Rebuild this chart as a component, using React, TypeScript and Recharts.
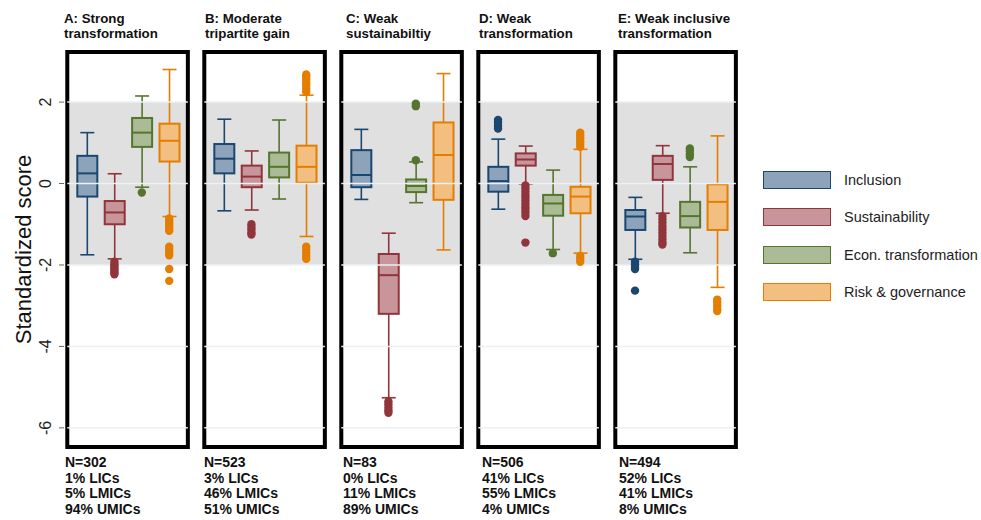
import React from "react";
import { ComposedChart, Bar, Scatter, XAxis, YAxis, ReferenceArea, ReferenceLine, Label } from "recharts";

const panelTitles = [
  ["A: Strong", "transformation"],
  ["B: Moderate", "tripartite gain"],
  ["C: Weak", "sustainabiltiy"],
  ["D: Weak", "transformation"],
  ["E: Weak inclusive", "transformation"],
];
const panelN = [302, 523, 83, 506, 494];
const licShare = [1, 3, 0, 41, 52];
const lmicShare = [5, 46, 11, 55, 41];
const umicShare = [94, 51, 89, 4, 8];

const seriesNames = ["Inclusion", "Sustainability", "Econ. transformation", "Risk & governance"];

// [lower whisker, q1, median, q3, upper whisker], one row per panel A..E
const inclusionBoxes = [
  [-1.75, -0.32, 0.25, 0.68, 1.25],
  [-0.67, 0.25, 0.61, 0.97, 1.58],
  [-0.39, -0.09, 0.21, 0.82, 1.33],
  [-0.63, -0.2, 0.06, 0.41, 1.09],
  [-1.86, -1.14, -0.81, -0.65, -0.34],
];
const sustainabilityBoxes = [
  [-1.85, -1.0, -0.71, -0.43, 0.24],
  [-0.65, -0.09, 0.17, 0.44, 0.8],
  [-5.26, -3.2, -2.25, -1.73, -1.22],
  [-0.01, 0.44, 0.59, 0.74, 0.92],
  [-0.73, 0.09, 0.48, 0.68, 0.93],
];
const econBoxes = [
  [-0.09, 0.9, 1.25, 1.61, 2.15],
  [-0.38, 0.15, 0.41, 0.76, 1.56],
  [-0.47, -0.21, -0.06, 0.1, 0.53],
  [-1.62, -0.79, -0.49, -0.28, 0.33],
  [-1.7, -1.08, -0.8, -0.45, 0.41],
];
const riskBoxes = [
  [-0.81, 0.54, 1.05, 1.47, 2.8],
  [-1.3, 0.02, 0.41, 0.93, 2.17],
  [-1.63, -0.4, 0.7, 1.5, 2.7],
  [-1.71, -0.73, -0.32, -0.08, 0.84],
  [-2.55, -1.14, -0.45, -0.02, 1.17],
];

// outside values, one list per panel A..E
const inclusionOutliers = [[], [], [], [1.35, 1.42, 1.5, 1.56], [-1.92, -1.98, -2.05, -2.1, -2.63]];
const sustainabilityOutliers = [
  [-1.92, -1.98, -2.03, -2.08, -2.13, -2.18, -2.23],
  [-1.0, -1.07, -1.13, -1.2, -1.25],
  [-5.35, -5.42, -5.5, -5.57, -5.63],
  [-0.05, -0.12, -0.2, -0.28, -0.35, -0.42, -0.5, -0.58, -0.65, -0.72, -0.8, -1.45],
  [-0.8, -0.88, -0.96, -1.04, -1.12, -1.2, -1.28, -1.36, -1.44, -1.5],
];
const econOutliers = [[-0.22], [], [0.57, 1.9, 1.96], [-1.71], [0.65, 0.72, 0.8, 0.86]];
const riskOutliers = [
  [-0.86, -0.92, -0.98, -1.04, -1.1, -1.16, -1.55, -1.62, -1.7, -1.76, -2.1, -2.39],
  [2.25, 2.32, 2.4, 2.47, 2.55, 2.62, 2.68, -1.55, -1.62, -1.7, -1.78, -1.85],
  [],
  [0.9, 0.97, 1.04, 1.11, 1.18, 1.25, -1.78, -1.85, -1.92],
  [-2.85, -2.92, -3.0, -3.08, -3.13],
];

const yTicks = [2, 0, -2, -4, -6];

const boxesBySeries = [inclusionBoxes, sustainabilityBoxes, econBoxes, riskBoxes];
const outliersBySeries = [inclusionOutliers, sustainabilityOutliers, econOutliers, riskOutliers];

const colors = [
  { stroke: "#1a476f", fill: "#8da3ba" },
  { stroke: "#90353b", fill: "#c8969a" },
  { stroke: "#55752f", fill: "#aabb96" },
  { stroke: "#e37e00", fill: "#f2bf80" },
];

const FONT = "'Liberation Sans', Arial, sans-serif";
const Y_DOMAIN: [number, number] = [-6.47, 3.23];
const X_DOMAIN: [number, number] = [-0.84, 23.9];
const SLOTS_PER_PANEL = 5;

// slot position on the x axis: panel p, series s -> 5p + s
const boxRows = boxesBySeries.flatMap((boxes, s) =>
  boxes.map((b, p) => ({
    x: p * SLOTS_PER_PANEL + s,
    series: s,
    lo: b[0],
    q1: b[1],
    med: b[2],
    q3: b[3],
    hi: b[4],
  }))
);

const outlierPoints = outliersBySeries.map((lists, s) =>
  lists.flatMap((vals, p) => vals.map((v) => ({ x: p * SLOTS_PER_PANEL + s, y: v })))
);

const panelExtents = panelTitles.map((_, p) => [p * SLOTS_PER_PANEL - 0.72, p * SLOTS_PER_PANEL + 3.68]);

function BoxShape(props: any) {
  const { x, y, width, height, payload } = props;
  const { lo, q1, med, q3, hi, series } = payload;
  const top = Math.min(y, y + height);
  const h = Math.abs(height);
  const py = (v: number) => top + ((hi - v) / (hi - lo)) * h;
  const cx = x + width / 2;
  const c = colors[series];
  const cap = 7;
  return (
    <g>
      <line x1={cx} x2={cx} y1={py(hi)} y2={py(lo)} stroke={c.stroke} strokeWidth={1.6} />
      <line x1={cx - cap} x2={cx + cap} y1={py(hi)} y2={py(hi)} stroke={c.stroke} strokeWidth={1.6} />
      <line x1={cx - cap} x2={cx + cap} y1={py(lo)} y2={py(lo)} stroke={c.stroke} strokeWidth={1.6} />
      <rect x={x} y={py(q3)} width={width} height={py(q1) - py(q3)} fill={c.fill} stroke={c.stroke} strokeWidth={2} />
      <line x1={x} x2={x + width} y1={py(med)} y2={py(med)} stroke={c.stroke} strokeWidth={2} />
    </g>
  );
}

function YTick(props: any) {
  const { y, payload } = props;
  return (
    <text x={51} y={y} transform={`rotate(-90 51 ${y})`} textAnchor="middle" fontSize={16} fill="#222" fontFamily={FONT}>
      {String(payload.value)}
    </text>
  );
}

function YTitle(props: any) {
  const { viewBox } = props;
  const cy = viewBox.y + viewBox.height / 2;
  return (
    <text x={31} y={cy} transform={`rotate(-90 31 ${cy})`} textAnchor="middle" fontSize={22} fill="#111" fontFamily={FONT}>
      Standardized score
    </text>
  );
}

export default function App() {
  return (
    <div style={{ position: "absolute", left: 0, top: 0, width: 981, height: 520, background: "#fff", fontFamily: FONT }}>
      <ComposedChart width={981} height={520} data={boxRows} margin={{ top: 52, right: 239.1, bottom: 73, left: 14 }}>
        <XAxis dataKey="x" type="number" domain={X_DOMAIN} hide allowDataOverflow />
        <YAxis
          type="number"
          domain={Y_DOMAIN}
          ticks={yTicks}
          allowDataOverflow
          width={50}
          axisLine={false}
          tickLine={{ stroke: "#666" }}
          tickSize={5}
          tick={<YTick />}
        >
          <Label content={<YTitle />} />
        </YAxis>
        {panelExtents.map(([a, b], p) => (
          <ReferenceArea key={`band${p}`} x1={a} x2={b} y1={-2} y2={2} fill="#e0e0e0" fillOpacity={1} stroke="none" />
        ))}
        {panelExtents.flatMap(([a, b], p) =>
          yTicks.map((t) => (
            <ReferenceLine
              key={`g${p}_${t}`}
              segment={[{ x: a, y: t }, { x: b, y: t }]}
              stroke="#eaf0f3"
              strokeWidth={1.5}
            />
          ))
        )}
        <Bar dataKey={(d: any) => [d.lo, d.hi]} barSize={20} shape={<BoxShape />} isAnimationActive={false} />
        {outlierPoints.map((pts, s) => (
          <Scatter
            key={seriesNames[s]}
            name={seriesNames[s]}
            data={pts}
            dataKey="y"
            fill={colors[s].stroke}
            isAnimationActive={false}
            shape={(p: any) => <circle cx={p.cx} cy={p.cy} r={4.2} fill={colors[s].stroke} />}
          />
        ))}
        {panelExtents.map(([a, b], p) => (
          <ReferenceArea
            key={`frame${p}`}
            x1={a}
            x2={b}
            y1={Y_DOMAIN[0]}
            y2={Y_DOMAIN[1]}
            fill="none"
            stroke="#000"
            strokeWidth={4}
          />
        ))}
      </ComposedChart>

      {panelTitles.map((lines, p) => (
        <div
          key={`t${p}`}
          style={{ position: "absolute", left: [64, 205, 346, 479, 618][p], top: 10.5, fontSize: 13.3, lineHeight: "15px", fontWeight: 700, color: "#111" }}
        >
          {lines.map((l) => (
            <div key={l}>{l}</div>
          ))}
        </div>
      ))}

      {panelN.map((n, p) => (
        <div
          key={`n${p}`}
          style={{ position: "absolute", left: [65, 204, 343, 482, 619][p], top: 455, fontSize: 14, lineHeight: "15.7px", fontWeight: 700, color: "#111" }}
        >
          <div>N={n}</div>
          <div>{licShare[p]}% LICs</div>
          <div>{lmicShare[p]}% LMICs</div>
          <div>{umicShare[p]}% UMICs</div>
        </div>
      ))}

      <div style={{ position: "absolute", left: 763, top: 170.5 }}>
        {seriesNames.map((name, s) => (
          <div key={name} style={{ display: "flex", alignItems: "center", height: 37.3 }}>
            <div
              style={{
                width: 66,
                height: 16,
                background: colors[s].fill,
                border: `1.6px solid ${colors[s].stroke}`,
                marginTop: -18,
              }}
            />
            <div style={{ marginLeft: 13, marginTop: -18, fontSize: 14.5, color: "#222" }}>{name}</div>
          </div>
        ))}
      </div>
    </div>
  );
}
